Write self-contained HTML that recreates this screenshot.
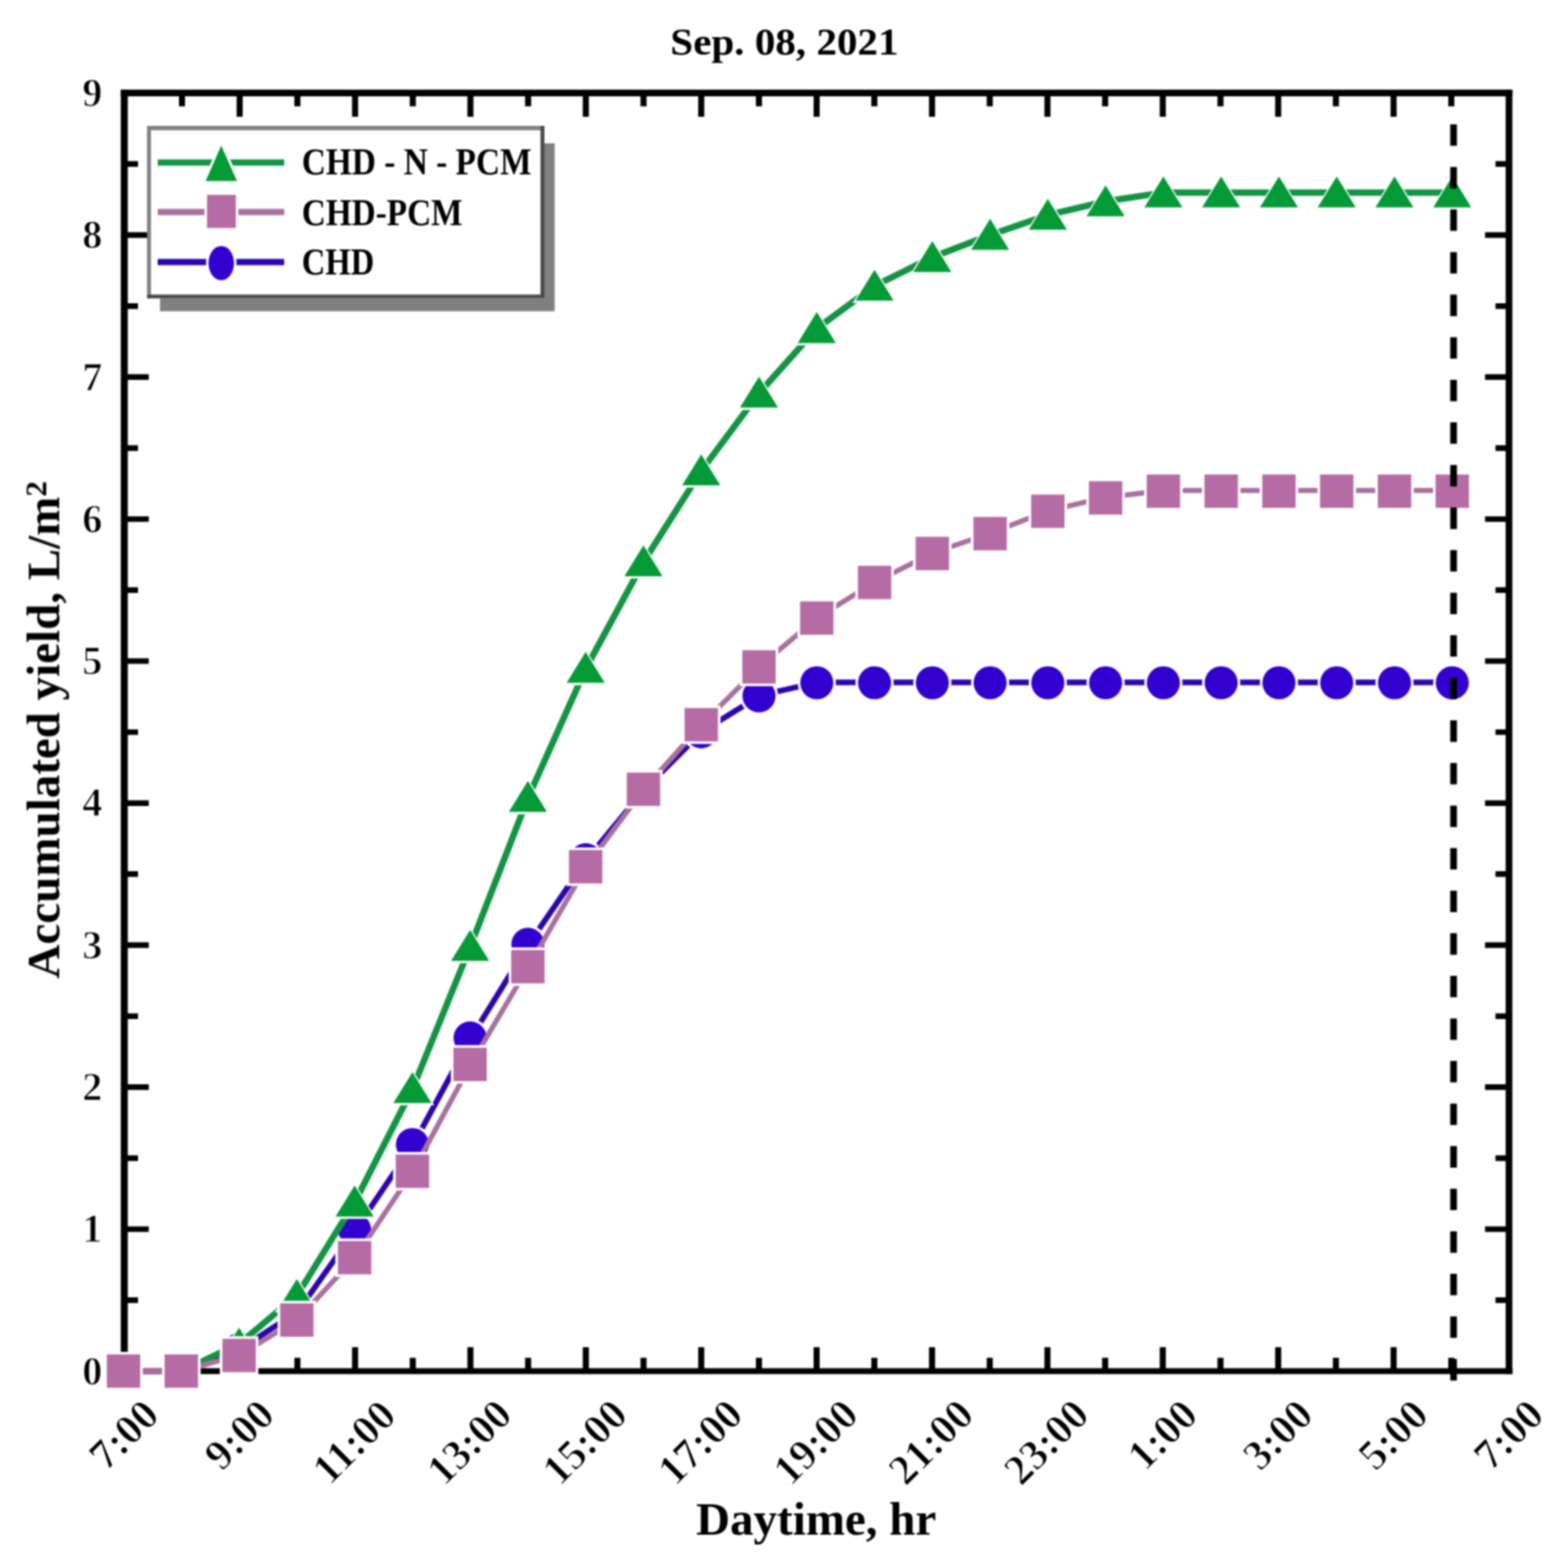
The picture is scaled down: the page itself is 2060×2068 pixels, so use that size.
<!DOCTYPE html>
<html lang="en"><head><meta charset="utf-8"><title>Accumulated yield - Sep. 08, 2021</title>
<style>html,body{margin:0;padding:0;background:#fff;}body{width:2060px;height:2068px;overflow:hidden;}svg{display:block;}svg{font-family:"Liberation Serif", "DejaVu Serif", serif;font-weight:bold;}text{fill:#000;}</style></head><body>
<svg xmlns="http://www.w3.org/2000/svg" width="2060" height="2068" viewBox="0 0 2060 2068">
<defs><filter id="soft" x="0" y="0" width="2060" height="2068" filterUnits="userSpaceOnUse" color-interpolation-filters="sRGB"><feGaussianBlur stdDeviation="1.1"/></filter></defs>
<rect x="0" y="0" width="2060" height="2068" fill="#fff"/>
<g filter="url(#soft)">
<g id="axes" stroke="#000" fill="none">
<path d="M159.3 122.7H1994.5" stroke-width="8.7"/>
<path d="M159.3 1808.4H1994.5" stroke-width="7.9"/>
<path d="M163.9 118.4V1812.3" stroke-width="9.2"/>
<path d="M1990.1 118.4V1812.3" stroke-width="8.8"/>
<path d="M240.0 1808.4V1790.8M240.0 122.7V140.3" stroke-width="8.0"/>
<path d="M316.1 1808.4V1776.8M316.1 122.7V154.1" stroke-width="8.0"/>
<path d="M392.2 1808.4V1790.8M392.2 122.7V140.3" stroke-width="8.0"/>
<path d="M468.3 1808.4V1776.8M468.3 122.7V154.1" stroke-width="8.0"/>
<path d="M544.4 1808.4V1790.8M544.4 122.7V140.3" stroke-width="8.0"/>
<path d="M620.4 1808.4V1776.8M620.4 122.7V154.1" stroke-width="8.0"/>
<path d="M696.5 1808.4V1790.8M696.5 122.7V140.3" stroke-width="8.0"/>
<path d="M772.6 1808.4V1776.8M772.6 122.7V154.1" stroke-width="8.0"/>
<path d="M848.7 1808.4V1790.8M848.7 122.7V140.3" stroke-width="8.0"/>
<path d="M924.8 1808.4V1776.8M924.8 122.7V154.1" stroke-width="8.0"/>
<path d="M1000.9 1808.4V1790.8M1000.9 122.7V140.3" stroke-width="8.0"/>
<path d="M1077.0 1808.4V1776.8M1077.0 122.7V154.1" stroke-width="8.0"/>
<path d="M1153.1 1808.4V1790.8M1153.1 122.7V140.3" stroke-width="8.0"/>
<path d="M1229.2 1808.4V1776.8M1229.2 122.7V154.1" stroke-width="8.0"/>
<path d="M1305.3 1808.4V1790.8M1305.3 122.7V140.3" stroke-width="8.0"/>
<path d="M1381.4 1808.4V1776.8M1381.4 122.7V154.1" stroke-width="8.0"/>
<path d="M1457.5 1808.4V1790.8M1457.5 122.7V140.3" stroke-width="8.0"/>
<path d="M1533.5 1808.4V1776.8M1533.5 122.7V154.1" stroke-width="8.0"/>
<path d="M1609.6 1808.4V1790.8M1609.6 122.7V140.3" stroke-width="8.0"/>
<path d="M1685.7 1808.4V1776.8M1685.7 122.7V154.1" stroke-width="8.0"/>
<path d="M1761.8 1808.4V1790.8M1761.8 122.7V140.3" stroke-width="8.0"/>
<path d="M1837.9 1808.4V1776.8M1837.9 122.7V154.1" stroke-width="8.0"/>
<path d="M1914.0 1808.4V1790.8M1914.0 122.7V140.3" stroke-width="8.0"/>
<path d="M163.9 1714.8H182.0M1990.1 1714.8H1972.3" stroke-width="7.4"/>
<path d="M163.9 1621.1H196.2M1990.1 1621.1H1958.5" stroke-width="7.4"/>
<path d="M163.9 1527.5H182.0M1990.1 1527.5H1972.3" stroke-width="7.4"/>
<path d="M163.9 1433.8H196.2M1990.1 1433.8H1958.5" stroke-width="7.4"/>
<path d="M163.9 1340.2H182.0M1990.1 1340.2H1972.3" stroke-width="7.4"/>
<path d="M163.9 1246.5H196.2M1990.1 1246.5H1958.5" stroke-width="7.4"/>
<path d="M163.9 1152.8H182.0M1990.1 1152.8H1972.3" stroke-width="7.4"/>
<path d="M163.9 1059.2H196.2M1990.1 1059.2H1958.5" stroke-width="7.4"/>
<path d="M163.9 965.6H182.0M1990.1 965.6H1972.3" stroke-width="7.4"/>
<path d="M163.9 871.9H196.2M1990.1 871.9H1958.5" stroke-width="7.4"/>
<path d="M163.9 778.2H182.0M1990.1 778.2H1972.3" stroke-width="7.4"/>
<path d="M163.9 684.6H196.2M1990.1 684.6H1958.5" stroke-width="7.4"/>
<path d="M163.9 591.0H182.0M1990.1 591.0H1972.3" stroke-width="7.4"/>
<path d="M163.9 497.3H196.2M1990.1 497.3H1958.5" stroke-width="7.4"/>
<path d="M163.9 403.7H182.0M1990.1 403.7H1972.3" stroke-width="7.4"/>
<path d="M163.9 310.0H196.2M1990.1 310.0H1958.5" stroke-width="7.4"/>
<path d="M163.9 216.3H182.0M1990.1 216.3H1972.3" stroke-width="7.4"/>
</g>
<g id="ylabels" font-size="53" text-anchor="end" style="stroke:#fff;stroke-width:1.2px">
<text x="135" y="1825.6">0</text>
<text x="135" y="1638.3">1</text>
<text x="135" y="1451.0">2</text>
<text x="135" y="1263.7">3</text>
<text x="135" y="1076.4">4</text>
<text x="135" y="889.1">5</text>
<text x="135" y="701.8">6</text>
<text x="135" y="514.5">7</text>
<text x="135" y="327.2">8</text>
<text x="135" y="139.9">9</text>
</g>
<g id="xlabels" font-size="56" text-anchor="middle" style="stroke:#fff;stroke-width:1.2px">
<text transform="translate(163.3 1892.1) rotate(-45)" x="0" y="18.5">7:00</text>
<text transform="translate(315.5 1892.1) rotate(-45)" x="0" y="18.5">9:00</text>
<text transform="translate(466.8 1901.8) rotate(-45)" x="0" y="18.5">11:00</text>
<text transform="translate(618.9 1901.8) rotate(-45)" x="0" y="18.5">13:00</text>
<text transform="translate(771.1 1901.8) rotate(-45)" x="0" y="18.5">15:00</text>
<text transform="translate(923.3 1901.8) rotate(-45)" x="0" y="18.5">17:00</text>
<text transform="translate(1075.5 1901.8) rotate(-45)" x="0" y="18.5">19:00</text>
<text transform="translate(1227.7 1901.8) rotate(-45)" x="0" y="18.5">21:00</text>
<text transform="translate(1379.9 1901.8) rotate(-45)" x="0" y="18.5">23:00</text>
<text transform="translate(1533.0 1892.1) rotate(-45)" x="0" y="18.5">1:00</text>
<text transform="translate(1685.1 1892.1) rotate(-45)" x="0" y="18.5">3:00</text>
<text transform="translate(1837.3 1892.1) rotate(-45)" x="0" y="18.5">5:00</text>
<text transform="translate(1989.5 1892.1) rotate(-45)" x="0" y="18.5">7:00</text>
</g>
<text x="884" y="72" font-size="50.5" textLength="301" lengthAdjust="spacingAndGlyphs">Sep. 08, 2021</text>
<text x="918" y="2023.5" font-size="62">Daytime, hr</text>
<text transform="translate(78 1290.5) rotate(-90)" font-size="62">Accumulated yield, L/m<tspan dy="-17.5" font-size="41">2</tspan></text>
<g id="legend">
<rect x="211" y="189" width="520.5" height="221.5" fill="#808080"/>
<rect x="194" y="166" width="524" height="227.5" fill="#fff"/>
<path d="M196.5 393.5V166" fill="none" stroke="#808080" stroke-width="5.2"/>
<path d="M194 168.9H718" fill="none" stroke="#808080" stroke-width="5.8"/>
<path d="M715.4 166V391H194" fill="none" stroke="#4a4a4a" stroke-width="5.2"/>
<path d="M208 214.4H374.8" stroke="#149443" stroke-width="8.2" fill="none"/>
<path d="M291.8 192L312.5 238.8H271.2Z" fill="#049a36" stroke="#fff" stroke-width="6.6" paint-order="stroke" stroke-linejoin="miter"/>
<path d="M208 279.7H374.8" stroke="#a8719d" stroke-width="8.2" fill="none"/>
<rect x="273" y="257" width="38" height="43.7" fill="#b56ca5" stroke="#fff" stroke-width="6.6" paint-order="stroke"/>
<path d="M208 345.6H374.8" stroke="#2d06ab" stroke-width="8.2" fill="none"/>
<ellipse cx="291.8" cy="347" rx="16.8" ry="22.6" fill="#3200cf" stroke="#fff" stroke-width="6.6" paint-order="stroke"/>
<g font-size="51" lengthAdjust="spacingAndGlyphs">
<text x="398" y="230.3" textLength="303" lengthAdjust="spacingAndGlyphs">CHD - N - PCM</text>
<text x="398" y="296.8" textLength="212" lengthAdjust="spacingAndGlyphs">CHD-PCM</text>
<text x="398" y="362" textLength="95.5" lengthAdjust="spacingAndGlyphs">CHD</text>
</g></g>
<g id="chd">
<polyline points="240.6,1808.3 316.8,1779.4 393.0,1729.4 469.2,1621.4 545.4,1508.9 621.5,1368.2 697.7,1244.7 773.9,1133.3 850.1,1040.9 926.3,964.6 1002.5,917.2 1078.7,899.9 1154.9,899.9 1231.1,899.9 1307.2,899.9 1383.4,899.9 1459.6,899.9 1535.8,899.9 1612.0,899.9 1688.2,899.9 1764.4,899.9 1840.6,899.9 1916.8,899.9" fill="none" stroke="#2d06ab" stroke-width="7.5" stroke-linejoin="round"/>
<g>
<circle cx="162.9" cy="1808.3" r="25.2" fill="#fff"/>
<circle cx="162.9" cy="1808.3" r="21.8" fill="#3200cf"/>
<circle cx="239.1" cy="1808.3" r="25.2" fill="#fff"/>
<circle cx="239.1" cy="1808.3" r="21.8" fill="#3200cf"/>
<circle cx="315.3" cy="1780.0" r="25.2" fill="#fff"/>
<circle cx="315.3" cy="1780.0" r="21.8" fill="#3200cf"/>
<circle cx="391.5" cy="1730.0" r="25.2" fill="#fff"/>
<circle cx="391.5" cy="1730.0" r="21.8" fill="#3200cf"/>
<circle cx="467.7" cy="1622.0" r="25.2" fill="#fff"/>
<circle cx="467.7" cy="1622.0" r="21.8" fill="#3200cf"/>
<circle cx="543.9" cy="1509.5" r="25.2" fill="#fff"/>
<circle cx="543.9" cy="1509.5" r="21.8" fill="#3200cf"/>
<circle cx="620.0" cy="1368.8" r="25.2" fill="#fff"/>
<circle cx="620.0" cy="1368.8" r="21.8" fill="#3200cf"/>
<circle cx="696.2" cy="1245.3" r="25.2" fill="#fff"/>
<circle cx="696.2" cy="1245.3" r="21.8" fill="#3200cf"/>
<circle cx="772.4" cy="1133.9" r="25.2" fill="#fff"/>
<circle cx="772.4" cy="1133.9" r="21.8" fill="#3200cf"/>
<circle cx="848.6" cy="1041.5" r="25.2" fill="#fff"/>
<circle cx="848.6" cy="1041.5" r="21.8" fill="#3200cf"/>
<circle cx="924.8" cy="965.2" r="25.2" fill="#fff"/>
<circle cx="924.8" cy="965.2" r="21.8" fill="#3200cf"/>
<circle cx="1001.0" cy="917.8" r="25.2" fill="#fff"/>
<circle cx="1001.0" cy="917.8" r="21.8" fill="#3200cf"/>
<circle cx="1077.2" cy="900.5" r="25.2" fill="#fff"/>
<circle cx="1077.2" cy="900.5" r="21.8" fill="#3200cf"/>
<circle cx="1153.4" cy="900.5" r="25.2" fill="#fff"/>
<circle cx="1153.4" cy="900.5" r="21.8" fill="#3200cf"/>
<circle cx="1229.6" cy="900.5" r="25.2" fill="#fff"/>
<circle cx="1229.6" cy="900.5" r="21.8" fill="#3200cf"/>
<circle cx="1305.8" cy="900.5" r="25.2" fill="#fff"/>
<circle cx="1305.8" cy="900.5" r="21.8" fill="#3200cf"/>
<circle cx="1381.9" cy="900.5" r="25.2" fill="#fff"/>
<circle cx="1381.9" cy="900.5" r="21.8" fill="#3200cf"/>
<circle cx="1458.1" cy="900.5" r="25.2" fill="#fff"/>
<circle cx="1458.1" cy="900.5" r="21.8" fill="#3200cf"/>
<circle cx="1534.3" cy="900.5" r="25.2" fill="#fff"/>
<circle cx="1534.3" cy="900.5" r="21.8" fill="#3200cf"/>
<circle cx="1610.5" cy="900.5" r="25.2" fill="#fff"/>
<circle cx="1610.5" cy="900.5" r="21.8" fill="#3200cf"/>
<circle cx="1686.7" cy="900.5" r="25.2" fill="#fff"/>
<circle cx="1686.7" cy="900.5" r="21.8" fill="#3200cf"/>
<circle cx="1762.9" cy="900.5" r="25.2" fill="#fff"/>
<circle cx="1762.9" cy="900.5" r="21.8" fill="#3200cf"/>
<circle cx="1839.1" cy="900.5" r="25.2" fill="#fff"/>
<circle cx="1839.1" cy="900.5" r="21.8" fill="#3200cf"/>
<circle cx="1915.3" cy="900.5" r="25.2" fill="#fff"/>
<circle cx="1915.3" cy="900.5" r="21.8" fill="#3200cf"/>
</g></g>
<g id="chd-n-pcm">
<polyline points="239.7,1808.3 315.9,1772.0 392.1,1707.9 468.3,1584.7 544.5,1435.0 620.6,1247.5 696.8,1051.1 773.0,880.9 849.2,740.3 925.4,620.3 1001.6,517.9 1077.8,432.7 1154.0,376.8 1230.2,339.0 1306.3,309.7 1382.5,283.4 1458.7,265.5 1534.9,253.9 1611.1,253.9 1687.3,253.9 1763.5,253.9 1839.7,253.9 1915.9,253.9" fill="none" stroke="#149443" stroke-width="8.5" stroke-linejoin="round"/>
<g>
<path d="M162.9 1784.5L191.9 1831.6H133.9Z" fill="#fff"/>
<path d="M162.9 1787.7L188.0 1828.5H137.8Z" fill="#049a36"/>
<path d="M239.1 1784.5L268.1 1831.6H210.1Z" fill="#fff"/>
<path d="M239.1 1787.7L264.2 1828.5H214.0Z" fill="#049a36"/>
<path d="M315.3 1747.7L344.3 1794.8H286.3Z" fill="#fff"/>
<path d="M315.3 1750.9L340.4 1791.7H290.2Z" fill="#049a36"/>
<path d="M391.5 1683.6L420.5 1730.7H362.5Z" fill="#fff"/>
<path d="M391.5 1686.8L416.6 1727.6H366.4Z" fill="#049a36"/>
<path d="M467.7 1560.4L496.7 1607.5H438.7Z" fill="#fff"/>
<path d="M467.7 1563.6L492.8 1604.4H442.6Z" fill="#049a36"/>
<path d="M543.9 1410.7L572.8 1457.8H514.9Z" fill="#fff"/>
<path d="M543.9 1413.9L569.0 1454.7H518.8Z" fill="#049a36"/>
<path d="M620.0 1223.2L649.0 1270.3H591.0Z" fill="#fff"/>
<path d="M620.0 1226.4L645.1 1267.2H594.9Z" fill="#049a36"/>
<path d="M696.2 1026.8L725.2 1073.9H667.2Z" fill="#fff"/>
<path d="M696.2 1030.0L721.3 1070.8H671.1Z" fill="#049a36"/>
<path d="M772.4 856.6L801.4 903.7H743.4Z" fill="#fff"/>
<path d="M772.4 859.8L797.5 900.6H747.3Z" fill="#049a36"/>
<path d="M848.6 716.0L877.6 763.1H819.6Z" fill="#fff"/>
<path d="M848.6 719.2L873.7 760.0H823.5Z" fill="#049a36"/>
<path d="M924.8 596.0L953.8 643.1H895.8Z" fill="#fff"/>
<path d="M924.8 599.2L949.9 640.0H899.7Z" fill="#049a36"/>
<path d="M1001.0 493.6L1030.0 540.7H972.0Z" fill="#fff"/>
<path d="M1001.0 496.8L1026.1 537.6H975.9Z" fill="#049a36"/>
<path d="M1077.2 408.4L1106.2 455.5H1048.2Z" fill="#fff"/>
<path d="M1077.2 411.6L1102.3 452.4H1052.1Z" fill="#049a36"/>
<path d="M1153.4 352.5L1182.4 399.6H1124.4Z" fill="#fff"/>
<path d="M1153.4 355.7L1178.5 396.5H1128.3Z" fill="#049a36"/>
<path d="M1229.6 314.7L1258.6 361.8H1200.6Z" fill="#fff"/>
<path d="M1229.6 317.9L1254.7 358.7H1204.5Z" fill="#049a36"/>
<path d="M1305.8 285.4L1334.7 332.5H1276.8Z" fill="#fff"/>
<path d="M1305.8 288.6L1330.8 329.4H1280.7Z" fill="#049a36"/>
<path d="M1381.9 259.1L1410.9 306.2H1352.9Z" fill="#fff"/>
<path d="M1381.9 262.3L1407.0 303.1H1356.8Z" fill="#049a36"/>
<path d="M1458.1 241.2L1487.1 288.3H1429.1Z" fill="#fff"/>
<path d="M1458.1 244.4L1483.2 285.2H1433.0Z" fill="#049a36"/>
<path d="M1534.3 229.6L1563.3 276.7H1505.3Z" fill="#fff"/>
<path d="M1534.3 232.8L1559.4 273.6H1509.2Z" fill="#049a36"/>
<path d="M1610.5 229.6L1639.5 276.7H1581.5Z" fill="#fff"/>
<path d="M1610.5 232.8L1635.6 273.6H1585.4Z" fill="#049a36"/>
<path d="M1686.7 229.6L1715.7 276.7H1657.7Z" fill="#fff"/>
<path d="M1686.7 232.8L1711.8 273.6H1661.6Z" fill="#049a36"/>
<path d="M1762.9 229.6L1791.9 276.7H1733.9Z" fill="#fff"/>
<path d="M1762.9 232.8L1788.0 273.6H1737.8Z" fill="#049a36"/>
<path d="M1839.1 229.6L1868.1 276.7H1810.1Z" fill="#fff"/>
<path d="M1839.1 232.8L1864.2 273.6H1814.0Z" fill="#049a36"/>
<path d="M1915.3 229.6L1944.3 276.7H1886.3Z" fill="#fff"/>
<path d="M1915.3 232.8L1940.4 273.6H1890.2Z" fill="#049a36"/>
</g></g>
<g id="chd-pcm">
<path d="M162.9 1808.4H239.1" fill="none" stroke="#a8719d" stroke-width="8.6"/>
<polyline points="164.1,1808.3 240.3,1808.3 316.5,1786.8 392.7,1740.1 468.9,1657.8 545.1,1543.8 621.2,1402.9 697.4,1274.0 773.6,1142.2 849.8,1040.0 926.0,954.9 1002.2,878.7 1078.4,814.3 1154.6,767.3 1230.8,729.1 1307.0,702.9 1383.1,673.4 1459.3,655.8 1535.5,646.9 1611.7,646.9 1687.9,646.9 1764.1,646.9 1840.3,646.9 1916.5,646.9" fill="none" stroke="#a8719d" stroke-width="6.8" stroke-linejoin="round"/>
<g>
<rect x="137.5" y="1782.9" width="50.8" height="50.8" fill="#fff"/>
<rect x="140.9" y="1786.3" width="44" height="44" fill="#b56ca5"/>
<rect x="213.7" y="1782.9" width="50.8" height="50.8" fill="#fff"/>
<rect x="217.1" y="1786.3" width="44" height="44" fill="#b56ca5"/>
<rect x="289.9" y="1762.3" width="50.8" height="50.8" fill="#fff"/>
<rect x="293.3" y="1765.7" width="44" height="44" fill="#b56ca5"/>
<rect x="366.1" y="1715.6" width="50.8" height="50.8" fill="#fff"/>
<rect x="369.5" y="1719.0" width="44" height="44" fill="#b56ca5"/>
<rect x="442.2" y="1633.3" width="50.8" height="50.8" fill="#fff"/>
<rect x="445.7" y="1636.7" width="44" height="44" fill="#b56ca5"/>
<rect x="518.4" y="1519.3" width="50.8" height="50.8" fill="#fff"/>
<rect x="521.9" y="1522.7" width="44" height="44" fill="#b56ca5"/>
<rect x="594.6" y="1378.4" width="50.8" height="50.8" fill="#fff"/>
<rect x="598.0" y="1381.8" width="44" height="44" fill="#b56ca5"/>
<rect x="670.8" y="1249.5" width="50.8" height="50.8" fill="#fff"/>
<rect x="674.2" y="1252.9" width="44" height="44" fill="#b56ca5"/>
<rect x="747.0" y="1117.7" width="50.8" height="50.8" fill="#fff"/>
<rect x="750.4" y="1121.1" width="44" height="44" fill="#b56ca5"/>
<rect x="823.2" y="1015.5" width="50.8" height="50.8" fill="#fff"/>
<rect x="826.6" y="1018.9" width="44" height="44" fill="#b56ca5"/>
<rect x="899.4" y="930.4" width="50.8" height="50.8" fill="#fff"/>
<rect x="902.8" y="933.8" width="44" height="44" fill="#b56ca5"/>
<rect x="975.6" y="854.2" width="50.8" height="50.8" fill="#fff"/>
<rect x="979.0" y="857.6" width="44" height="44" fill="#b56ca5"/>
<rect x="1051.8" y="789.8" width="50.8" height="50.8" fill="#fff"/>
<rect x="1055.2" y="793.2" width="44" height="44" fill="#b56ca5"/>
<rect x="1128.0" y="742.8" width="50.8" height="50.8" fill="#fff"/>
<rect x="1131.4" y="746.2" width="44" height="44" fill="#b56ca5"/>
<rect x="1204.1" y="704.6" width="50.8" height="50.8" fill="#fff"/>
<rect x="1207.6" y="708.0" width="44" height="44" fill="#b56ca5"/>
<rect x="1280.3" y="678.4" width="50.8" height="50.8" fill="#fff"/>
<rect x="1283.8" y="681.8" width="44" height="44" fill="#b56ca5"/>
<rect x="1356.5" y="648.9" width="50.8" height="50.8" fill="#fff"/>
<rect x="1359.9" y="652.3" width="44" height="44" fill="#b56ca5"/>
<rect x="1432.7" y="631.3" width="50.8" height="50.8" fill="#fff"/>
<rect x="1436.1" y="634.7" width="44" height="44" fill="#b56ca5"/>
<rect x="1508.9" y="622.4" width="50.8" height="50.8" fill="#fff"/>
<rect x="1512.3" y="625.8" width="44" height="44" fill="#b56ca5"/>
<rect x="1585.1" y="622.4" width="50.8" height="50.8" fill="#fff"/>
<rect x="1588.5" y="625.8" width="44" height="44" fill="#b56ca5"/>
<rect x="1661.3" y="622.4" width="50.8" height="50.8" fill="#fff"/>
<rect x="1664.7" y="625.8" width="44" height="44" fill="#b56ca5"/>
<rect x="1737.5" y="622.4" width="50.8" height="50.8" fill="#fff"/>
<rect x="1740.9" y="625.8" width="44" height="44" fill="#b56ca5"/>
<rect x="1813.7" y="622.4" width="50.8" height="50.8" fill="#fff"/>
<rect x="1817.1" y="625.8" width="44" height="44" fill="#b56ca5"/>
<rect x="1889.9" y="622.4" width="50.8" height="50.8" fill="#fff"/>
<rect x="1893.3" y="625.8" width="44" height="44" fill="#b56ca5"/>
</g></g>
<path d="M1917 164V1822" fill="none" stroke="#000" stroke-width="8.8" stroke-dasharray="28.3 27.85"/>
</g>
</svg></body></html>
